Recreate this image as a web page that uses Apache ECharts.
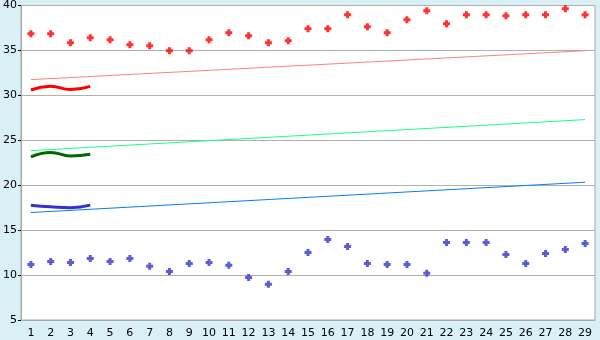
<!DOCTYPE html>
<html><head><meta charset="utf-8">
<script src="https://cdn.jsdelivr.net/npm/echarts@6/dist/echarts.min.js"></script>
<style>html,body{margin:0;padding:0;background:#d9f0f7;}#c{width:600px;height:340px;}</style>
</head><body><div id="c"></div>
<script>
const categories = ['1','2','3','4','5','6','7','8','9','10','11','12','13','14','15','16','17','18','19','20','21','22','23','24','25','26','27','28','29'];
const yTicks = [5,10,15,20,25,30,35,40];
const highPoints = [36.85,36.85,35.85,36.41,36.19,35.63,35.52,34.96,34.96,36.19,36.96,36.63,35.85,36.07,37.41,37.41,38.96,37.63,36.96,38.41,39.41,37.96,38.96,38.96,38.85,38.96,38.96,39.63,38.96];
const lowPoints = [11.19,11.52,11.41,11.85,11.52,11.85,10.97,10.41,11.30,11.41,11.08,9.74,8.97,10.41,12.52,13.97,13.19,11.30,11.19,11.19,10.19,13.63,13.63,13.63,12.30,11.30,12.41,12.85,13.52];
const redShort = [30.6,31.0,30.65,31.0];
const greenShort = [23.15,23.65,23.25,23.45];
const blueShort = [17.78,17.6,17.5,17.78];
// trend lines: first and last values only (straight segment)
const pinkTrend = [31.75, 34.97];
const greenTrend = [23.85, 27.3];
const blueTrend = [16.96, 20.33];

function ends(pair){ const a = categories.map(()=>null); a[0]=pair[0]; a[a.length-1]=pair[1]; return a; }

const plus = 'path://M2,0H5V2H7V5H5V7H2V5H0V2H2Z';
const chart = echarts.init(document.getElementById('c'), null, {renderer:'canvas'});
const font = {fontFamily:'DejaVu Sans', fontSize:11, color:'#000'};
chart.setOption({
  animation:false,
  backgroundColor:'#d9f0f7',
  grid:{left:20,right:5,top:5,bottom:20,show:true,backgroundColor:'#fff',borderColor:'#a8a8a8',borderWidth:1},
  xAxis:{type:'category',data:categories,boundaryGap:true,
    axisLine:{lineStyle:{color:'#a8a8a8'}},
    axisTick:{alignWithLabel:true,length:6,lineStyle:{color:'#000'}},
    axisLabel:Object.assign({margin:8,interval:0},font),
    splitLine:{show:false}},
  yAxis:{type:'value',min:yTicks[0],max:yTicks[yTicks.length-1],interval:5,
    axisLine:{show:true,lineStyle:{color:'#a8a8a8'}},
    axisTick:{show:true,length:3,lineStyle:{color:'#000'}},
    axisLabel:Object.assign({margin:4},font),
    splitLine:{lineStyle:{color:'#b0b0b0'}}},
  series:[
    {type:'line',data:ends(pinkTrend),connectNulls:true,symbol:'none',lineStyle:{color:'#ff8080',width:1}},
    {type:'line',data:ends(greenTrend),connectNulls:true,symbol:'none',lineStyle:{color:'#1aff8c',width:1}},
    {type:'line',data:ends(blueTrend),connectNulls:true,symbol:'none',lineStyle:{color:'#0a7cf0',width:1}},
    {type:'line',data:redShort,smooth:true,symbol:'none',lineStyle:{color:'#ff0000',width:3}},
    {type:'line',data:greenShort,smooth:true,symbol:'none',lineStyle:{color:'#006a00',width:3}},
    {type:'line',data:blueShort,smooth:true,symbol:'none',lineStyle:{color:'#3333cc',width:3}},
    {type:'scatter',data:highPoints,symbol:plus,symbolSize:7,itemStyle:{color:'#ff0000'},z:5},
    {type:'scatter',data:lowPoints,symbol:plus,symbolSize:7,itemStyle:{color:'#3333cc'},z:5}
  ]
});
</script></body></html>
